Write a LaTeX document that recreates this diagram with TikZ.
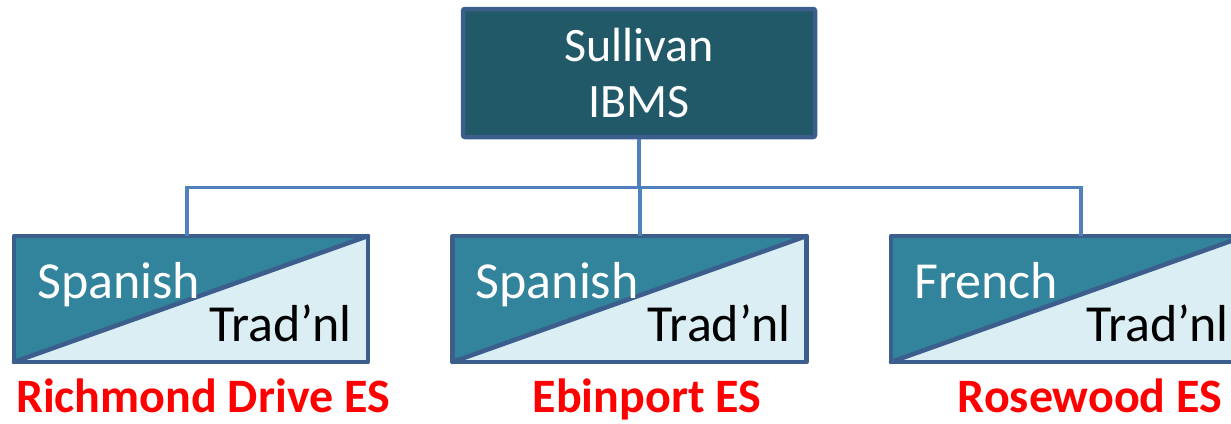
\documentclass[tikz,border=0pt]{standalone}
\usepackage{fontspec}
\setmainfont{Carlito}
\usetikzlibrary{calc, positioning}

\definecolor{topfill}{HTML}{215968}
\definecolor{darkfill}{HTML}{31849B}
\definecolor{lightfill}{HTML}{DBEEF4}
\definecolor{frameblue}{HTML}{3B5E8C}
\definecolor{linkblue}{HTML}{4F81BD}
\definecolor{schoolred}{HTML}{FF0000}

\tikzset{
  topbox/.style={draw=frameblue, line width=4.5pt, fill=topfill, rounded corners=2pt,
    minimum width=352pt, minimum height=128pt, inner sep=0pt, outer sep=2.25pt,
    align=center, text=white, font=\fontsize{48}{56}\selectfont},
  langbox/.style={fill=lightfill, minimum width=354pt, minimum height=126pt,
    inner sep=0pt, outer sep=0pt},
  frame/.style={draw=frameblue, line width=4.5pt, line cap=round, line join=round},
  link/.style={draw=linkblue, line width=3.5pt},
  langtext/.style={font=\fontsize{52}{60}\selectfont},
  school/.style={text=schoolred, font=\fontsize{48}{54}\selectfont\bfseries}
}

\begin{document}
\begin{tikzpicture}[x=1pt, y=-1pt]
\useasboundingbox (0,0) rectangle (1231,423);

\node[topbox] (ibms) at (639,73) {Sullivan\\IBMS};

\foreach \name/\x/\drop/\lang/\label/\lx in {%
    richmond/191/187/Spanish/Richmond Drive ES/203,
    ebinport/629.5/640/Spanish/Ebinport ES/647,
    rosewood/1068/1081/French/Rosewood ES/1090}{
  \node[langbox] (\name) at (\x,299) {};
  \fill[darkfill] (\name.north west) -- (\name.north east) -- (\name.south west) -- cycle;
  \draw[frame] (\name.south west) -- (\name.north east);
  \draw[frame] (\name.north west) rectangle (\name.south east);
  \node[langtext, text=white, anchor=base west, inner sep=0pt] (\name-lang)
    at ($(\name.north west)+(23,62)$) {\lang};
  \node[langtext, text=black, anchor=base east, inner sep=0pt] (\name-trad)
    at ($(\name.north east)+(-16,105)$) {Trad’nl};
  \node[school, anchor=base, inner sep=0pt] (\name-school) at (\lx,412) {\label};
  % bus from the top box down to each school
  \coordinate (\name-in) at (\drop,236);
  \draw[link] (ibms.south) -- ++(0,48) -| (\name-in);
}
\end{tikzpicture}
\end{document}
